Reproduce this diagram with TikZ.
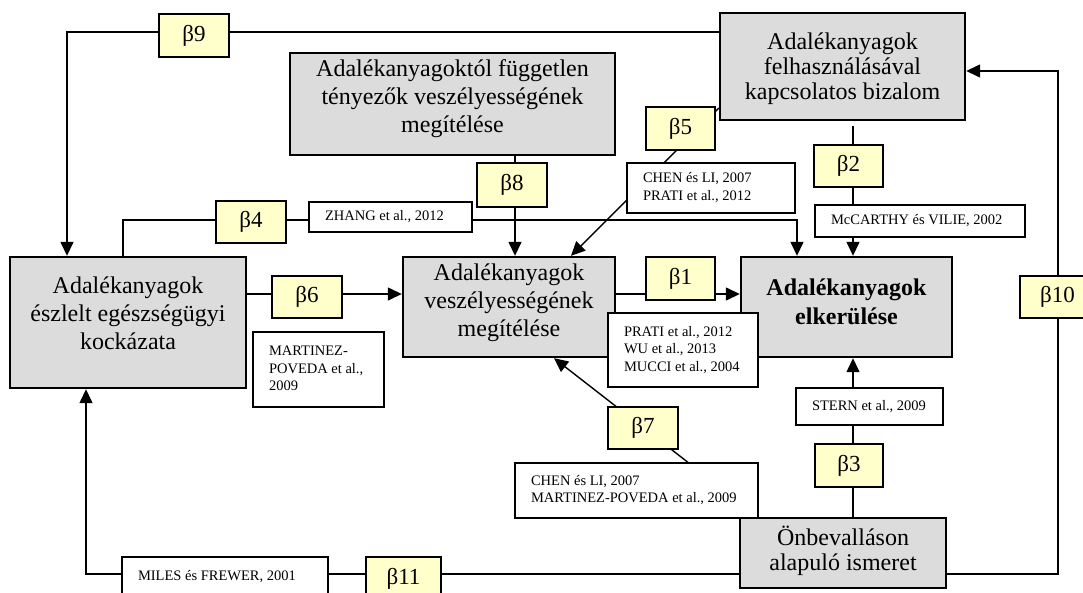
\documentclass[tikz,border=0pt]{standalone}
\usepackage{fontspec}
\setmainfont{Liberation Serif}
\usetikzlibrary{arrows.meta}
\pgfdeclarelayer{bg}
\pgfsetlayers{bg,main}
\definecolor{boxgray}{HTML}{DCDCDC}
\definecolor{betayel}{HTML}{FFFFCC}
\newcommand{\gtext}[1]{\begin{tabular}[t]{@{}c@{}}#1\end{tabular}}
\newcommand{\citbox}[2]{\makebox[#1][l]{\begin{tabular}{@{}l@{}}#2\end{tabular}}}
\begin{document}
\begin{tikzpicture}[x=1pt,y=-1pt,
  gbox/.style={draw, line width=2.4pt, fill=boxgray, inner sep=2pt, text height=17pt, font=\fontsize{24}{28}\selectfont},
  bbox/.style={draw, line width=1.8pt, fill=betayel, inner sep=0pt, minimum width=70pt, minimum height=43pt, font=\fontsize{23}{27}\selectfont},
  cbox/.style={draw, line width=1.6pt, fill=white, inner sep=0pt, inner xsep=16pt, font=\fontsize{14.5}{17.5}\selectfont},
  conn/.style={line width=1.4pt},
  arr/.style={conn, -{Triangle[length=14pt,width=13pt]}}]
\useasboundingbox (0,0) rectangle (1083,592);
% helper coordinates
\coordinate (y32) at (0,32);
\coordinate (y71) at (0,71);
\coordinate (y108) at (0,108);
\coordinate (y220) at (0,220);
\coordinate (y294) at (0,294);
\coordinate (y574) at (0,574);
\coordinate (x67) at (67,0);
\coordinate (x86) at (86,0);
\coordinate (x123) at (123,0);
\coordinate (x515) at (515,0);
\coordinate (x554) at (554,0);
\coordinate (x571) at (571,0);
\coordinate (x758) at (758,0);
\coordinate (x797) at (797,0);
\coordinate (x853) at (853,0);
\coordinate (x1058) at (1058,0);
% main boxes
\node[gbox, minimum width=325pt, minimum height=102pt, text depth=73pt] (fugg) at (452.5,104)
  {\gtext{Adalékanyagoktól független\\tényezők veszélyességének\\megítélése}};
\node[gbox, minimum width=245pt, minimum height=107pt, text depth=52pt, font=\fontsize{24}{25}\selectfont] (biz) at (842.5,66.5)
  {\gtext{Adalékanyagok\\felhasználásával\\kapcsolatos bizalom}};
\node[gbox, minimum width=236pt, minimum height=131pt, text depth=76pt] (esz) at (128,322.5)
  {\gtext{Adalékanyagok\\észlelt egészségügyi\\kockázata}};
\node[gbox, minimum width=212pt, minimum height=100pt, text depth=71pt] (vesz) at (509,307)
  {\gtext{Adalékanyagok\\veszélyességének\\megítélése}};
\node[gbox, minimum width=211pt, minimum height=100pt, text depth=41pt, font=\fontsize{24}{29}\selectfont\bfseries] (elk) at (846.5,307)
  {\gtext{Adalékanyagok\\elkerülése}};
% beta boxes
\node[bbox] (b9) at (194,35.5) {β9};
\node[bbox, minimum width=69pt] (b5) at (680.5,128.5) {β5};
\node[bbox, minimum height=44pt] (b8) at (512,185) {β8};
\node[bbox, minimum height=42pt] (b4) at (251,222) {β4};
\node[bbox, minimum width=69pt, minimum height=42pt] (b2) at (848.5,166) {β2};
\node[bbox, minimum height=42pt] (b6) at (307,297) {β6};
\node[bbox, minimum width=69pt] (b1) at (680.5,278.5) {β1};
\node[bbox, minimum width=75pt, minimum height=42pt] (b10) at (1057.5,297) {β10};
\node[bbox, minimum height=42pt] (b7) at (643,428) {β7};
\node[bbox, minimum width=68pt] (b3) at (849,465.5) {β3};
\node[bbox, minimum width=75pt] (b11) at (403.5,578.5) {β11};
% citation boxes
\node[cbox, minimum width=163pt, minimum height=30pt] (zhang) at (390.5,217) {\citbox{131pt}{ZHANG et al., 2012}};
\node[cbox, minimum width=168pt, minimum height=50pt] (chen1) at (711,188) {\citbox{136pt}{CHEN és LI, 2007\\PRATI et al., 2012}};
\node[cbox, minimum width=210pt, minimum height=32pt] (mcc) at (920,221) {\citbox{178pt}{McCARTHY és VILIE, 2002}};
\node[cbox, minimum width=131pt, minimum height=75pt] (mart) at (318.5,369.5) {\citbox{99pt}{MARTINEZ-\\POVEDA et al.,\\2009}};
\node[cbox, minimum width=150pt, minimum height=74pt] (prati) at (683,350) {\citbox{118pt}{PRATI et al., 2012\\WU et al., 2013\\MUCCI et al., 2004}};
\node[cbox, minimum width=243pt, minimum height=55pt] (chen2) at (636.5,490.5) {\citbox{211pt}{CHEN és LI, 2007\\MARTINEZ-POVEDA et al., 2009}};
\node[cbox, minimum width=147pt, minimum height=37pt] (stern) at (869.5,406.5) {\citbox{115pt}{STERN et al., 2009}};
\node[cbox, minimum width=206pt, minimum height=40pt] (miles) at (225,577) {\citbox{174pt}{MILES és FREWER, 2001}};
\node[gbox, minimum width=206pt, minimum height=70pt, text depth=33pt, font=\fontsize{24}{25}\selectfont] (onb) at (843,553)
  {\gtext{Önbevalláson\\alapuló ismeret}};
% connectors
\begin{pgfonlayer}{bg}
\draw[arr] (biz.west |- y32) -| (x67 |- esz.north);
\draw[arr] (x123 |- esz.north) |- (x797 |- y220) -- (x797 |- elk.north);
\draw[arr] (x515 |- fugg.south) -- (x515 |- vesz.north);
\draw[arr] (biz.west |- y108) -- (x571 |- vesz.north);
\draw[arr, shorten <=5pt] (x853 |- biz.south) -- (x853 |- elk.north);
\draw[arr] (esz.east |- y294) -- (vesz.west |- y294);
\draw[arr] (vesz.east |- y294) -- (elk.west |- y294);
\draw[arr] (x853 |- onb.north) -- (x853 |- elk.south);
\draw[arr] (x758 |- onb.north) -- (x554 |- vesz.south);
\draw[arr] (onb.east |- y574) -| (x1058 |- y71) -- (biz.east |- y71);
\draw[arr] (onb.west |- y574) -| (x86 |- esz.south);
\end{pgfonlayer}
\end{tikzpicture}
\end{document}
